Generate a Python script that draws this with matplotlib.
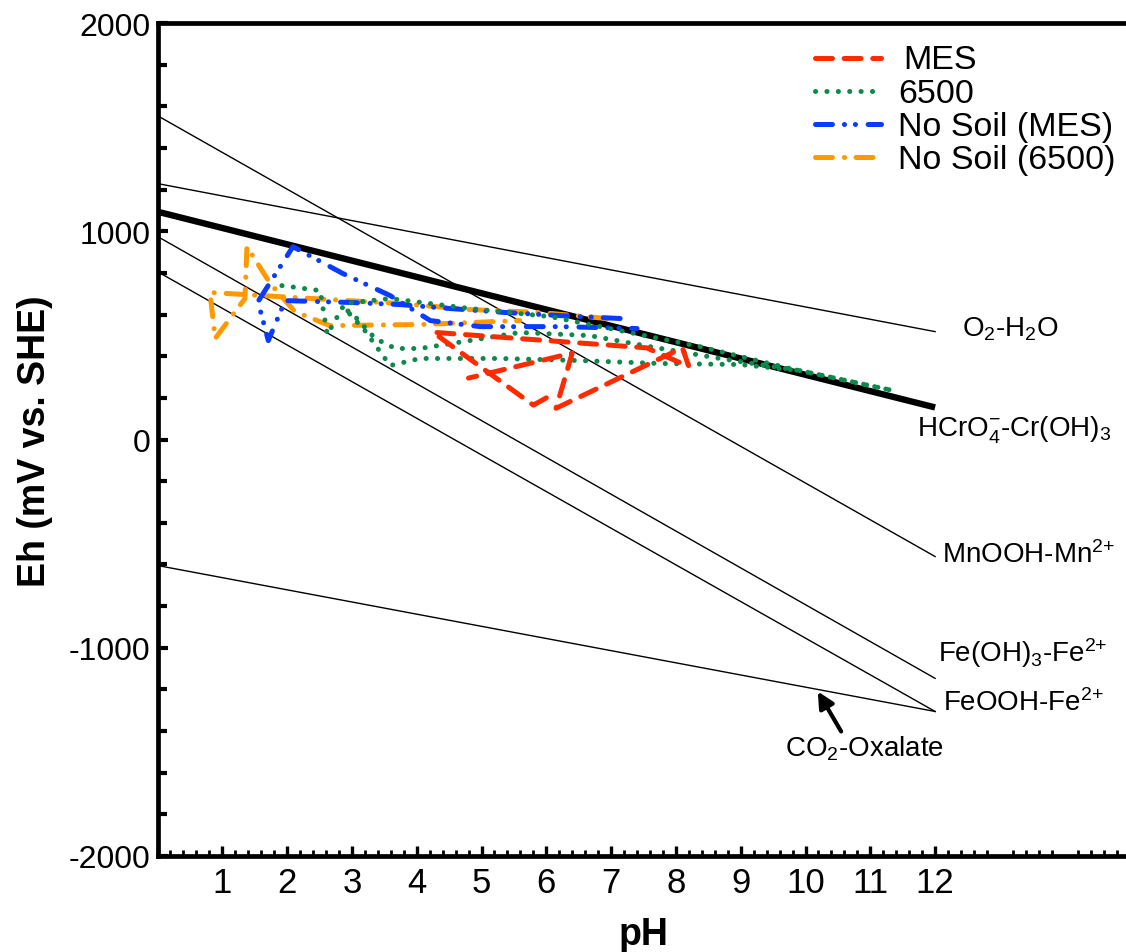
import matplotlib
matplotlib.use("Agg")
import matplotlib.pyplot as plt
from matplotlib.lines import Line2D
from matplotlib import font_manager

plt.rcParams['font.family'] = ['Liberation Sans', 'DejaVu Sans']
plt.rcParams['mathtext.fontset'] = 'custom'
plt.rcParams['mathtext.rm'] = 'Liberation Sans'
plt.rcParams['mathtext.it'] = 'Liberation Sans:italic'
plt.rcParams['mathtext.bf'] = 'Liberation Sans:bold'
plt.rcParams['lines.scale_dashes'] = False
plt.rcParams['axes.unicode_minus'] = False


def pick_font(names):
    for n in names:
        try:
            font_manager.findfont(n, fallback_to_default=False)
            return n
        except Exception:
            continue
    return 'Liberation Sans'


narrow = pick_font(['Liberation Sans Narrow', 'Arial Narrow', 'Liberation Sans'])

# ---- measured Eh/pH trajectories ----
mes_ph = [6.0, 5.8, 4.25, 7.55, 8.2, 8.1, 6.15, 6.4, 4.8]
mes_eh = [200, 165, 515, 440, 350, 440, 150, 415, 295]

s6500_ph = [1.92, 2.51, 2.62, 2.89, 3.59, 4.82, 6.06, 7.14, 8.37, 9.76, 11.35,
            9.91, 8.68, 7.6, 6.67, 5.59, 4.82, 4.05, 3.67, 3.36, 3.05, 2.89,
            3.2, 3.59, 4.05, 5.29, 6.52, 7.75, 8.99, 9.91]
s6500_eh = [739, 715, 504, 653, 677, 629, 590, 523, 446, 341, 235,
            331, 389, 446, 499, 514, 475, 437, 437, 485, 590, 629,
            523, 355, 389, 389, 379, 365, 360, 331]

nosoil_mes_ph = [7.14, 6.21, 5.36, 4.51, 3.74, 2.97, 1.97, 1.71, 1.55, 2.09,
                 2.86, 3.59, 4.21, 4.98, 6.21, 7.4]
nosoil_mes_eh = [581, 595, 610, 629, 648, 658, 667, 475, 662, 926,
                 797, 691, 571, 542, 542, 533]

nosoil_6500_ph = [6.94, 5.9, 4.82, 3.74, 2.66, 1.61, 0.81, 0.89, 1.35, 1.38,
                  1.74, 2.12, 2.66, 4.05, 5.59]
nosoil_6500_eh = [581, 610, 624, 653, 672, 691, 706, 485, 677, 926,
                  749, 614, 547, 552, 571]

# ---- equilibrium lines (Eh at pH 0 and pH 12) ----
ref_ph = [0, 12]
o2_h2o = [1229, 518]
hcro4_croh3 = [1094, 154]
mnooh_mn = [1555, -562]
feoh3_fe = [975, -1147]
feooh_fe = [806, -1306]
co2_oxalate = [-605, -1306]

line_labels = [r'O$_2$-H$_2$O', r'HCrO$_4^{{-}}$-Cr(OH)$_3$', r'MnOOH-Mn$^{2{+}}$',
               r'Fe(OH)$_3$-Fe$^{2{+}}$', r'FeOOH-Fe$^{2{+}}$', r'CO$_2$-Oxalate']
label_ph = [12.41, 11.72, 12.11, 12.04, 12.12, 9.68]
label_eh = [499, 19, -586, -1066, -1301, -1517]

series_names = ['MES', '6500', 'No Soil (MES)', 'No Soil (6500)']
c_red = '#ff2a00'
c_green = '#0c8a4c'
c_blue = '#0a3cff'
c_orange = '#ff9900'

ls_mes = (0, (12.2, 8.4))
ls_6500 = (0, (0.1, 8.1))
ls_nsm = (0, (12.2, 8.6, 0.1, 7.8, 0.1, 9.1))
ls_ns6 = (0, (12.2, 8.6, 0.1, 8.3))

W, H = 1126, 953
fig = plt.figure(figsize=(W / 100, H / 100), dpi=100)
ax = fig.add_axes([157.5 / W, 96 / H, 1 - 157.5 / W, (857 - 24) / H])
ax.set_xlim(0, (W - 157.5) / 64.8)
ax.set_ylim(-2000, 2000)

# equilibrium lines
for eh in [o2_h2o, mnooh_mn, feoh3_fe, feooh_fe, co2_oxalate]:
    ax.plot(ref_ph, eh, color='black', lw=1.0, zorder=1)
ax.plot(ref_ph, hcro4_croh3, color='black', lw=4.6, solid_capstyle='butt', zorder=1.5)

lw = 3.6
ax.plot(nosoil_6500_ph, nosoil_6500_eh, color=c_orange, lw=lw, linestyle=ls_ns6,
        dash_capstyle='round', zorder=2)
ax.plot(nosoil_mes_ph, nosoil_mes_eh, color=c_blue, lw=lw, linestyle=ls_nsm,
        dash_capstyle='round', zorder=3)
ax.plot(s6500_ph, s6500_eh, color=c_green, lw=lw, linestyle=ls_6500,
        dash_capstyle='round', zorder=4)
ax.plot(mes_ph, mes_eh, color=c_red, lw=lw, linestyle=ls_mes,
        dash_capstyle='round', zorder=5)

for txt, x, y in zip(line_labels, label_ph, label_eh):
    ax.text(x, y, txt, fontsize=20, ha='left', va='baseline', clip_on=False)

ax.annotate('', xy=(10.19, -1210), xytext=(10.55, -1402),
            arrowprops=dict(arrowstyle='-|>', color='black', lw=3,
                            mutation_scale=24, shrinkA=0, shrinkB=0))

# axes styling
for side in ['left', 'bottom', 'top']:
    ax.spines[side].set_linewidth(3.4)
ax.spines['right'].set_visible(False)

ax.set_xticks(range(0, 13))
ax.set_xticklabels([''] + [str(i) for i in range(1, 13)])
ax.set_xticks([i * 0.2 for i in range(1, 75) if i % 5 != 0], minor=True)
ax.set_yticks([-2000, -1000, 0, 1000, 2000])
ax.set_yticklabels(['-2000', '-1000', '0', '1000', '2000'])
ax.set_yticks([v for v in range(-2000, 2001, 200) if v % 1000 != 0], minor=True)

ax.tick_params(axis='x', which='major', direction='in', length=7, width=2.4, pad=7)
ax.tick_params(axis='x', which='minor', direction='in', length=4.5, width=2.0)
ax.tick_params(axis='y', which='major', direction='in', length=7.5, width=3, pad=5,
               labelsize=23)
ax.tick_params(axis='y', which='minor', direction='in', length=6.5, width=3)
ax.tick_params(top=False, right=False, which='both')
for t in ax.get_xticklabels():
    t.set_fontfamily(narrow)
    t.set_fontsize(25)

fig.text(643 / W, 1 - 935 / H, 'pH', fontsize=27, fontweight='bold',
         ha='center', va='center')
fig.text(35 / W, 1 - 441 / H, 'Eh (mV vs. SHE)', fontsize=27, fontweight='bold',
         rotation=90, ha='center', va='center')

# legend
leg_styles = [ls_mes, ls_6500, ls_nsm, ls_ns6]
leg_colors = [c_red, c_green, c_blue, c_orange]
leg_y = [59, 92, 125, 158]
leg_base = [69, 103, 136, 169]
leg_tx = [903, 898, 898, 898]
for name, st, col, yh, yb, tx in zip(series_names, leg_styles, leg_colors,
                                     leg_y, leg_base, leg_tx):
    fig.add_artist(Line2D([814.5 / W, 881 / W], [1 - yh / H, 1 - yh / H],
                          transform=fig.transFigure, color=col, lw=lw,
                          linestyle=st, dash_capstyle='round'))
    fig.text(tx / W, 1 - yb / H, name, fontsize=24.5, ha='left', va='baseline')

fig.savefig('out.png', dpi=100)
